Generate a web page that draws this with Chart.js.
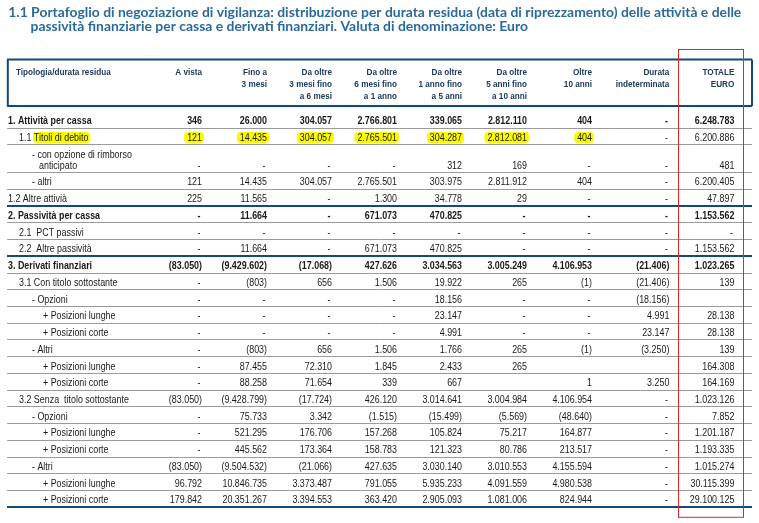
<!DOCTYPE html>
<html lang="it">
<head>
<meta charset="utf-8">
<title>Portafoglio di negoziazione di vigilanza</title>
<script src="https://cdn.jsdelivr.net/npm/chart.js@4.4.1/dist/chart.umd.min.js"></script>
<style>
  html, body { margin: 0; padding: 0; background: #ffffff; }
  #wrap { width: 759px; height: 523px; }
</style>
</head>
<body>
<div id="wrap"><canvas id="tbl" width="759" height="523"></canvas></div>
<script>
// ---- text ----
const titleLines = [
    "1.1 Portafoglio di negoziazione di vigilanza: distribuzione per durata residua (data di riprezzamento) delle attività e delle",
    "passività finanziarie per cassa e derivati finanziari. Valuta di denominazione: Euro"
];
const headCorner = "Tipologia/durata residua";
const colHeaders = [
    ["A vista"],
    ["Fino a", "3 mesi"],
    ["Da oltre", "3 mesi fino", "a 6 mesi"],
    ["Da oltre", "6 mesi fino", "a 1 anno"],
    ["Da oltre", "1 anno fino", "a 5 anni"],
    ["Da oltre", "5 anni fino", "a 10 anni"],
    ["Oltre", "10 anni"],
    ["Durata", "indeterminata"],
    ["TOTALE", "EURO"]
];
const rowLabels = [
    "1. Attività per cassa",
    "1.1 Titoli di debito",
    "- con opzione di rimborso\nanticipato",
    "- altri",
    "1.2 Altre attivià",
    "2. Passività per cassa",
    "2.1  PCT passivi",
    "2.2  Altre passività",
    "3. Derivati finanziari",
    "3.1 Con titolo sottostante",
    "- Opzioni",
    "+ Posizioni lunghe",
    "+ Posizioni corte",
    "- Altri",
    "+ Posizioni lunghe",
    "+ Posizioni corte",
    "3.2 Senza  titolo sottostante",
    "- Opzioni",
    "+ Posizioni lunghe",
    "+ Posizioni corte",
    "- Altri",
    "+ Posizioni lunghe",
    "+ Posizioni corte"
];
// indent level of each label (0 = section)
const rowIndent = [0, 1, 2, 2, 0, 0, 1, 1, 0, 1, 2, 3, 3, 2, 3, 3, 1, 2, 3, 3, 2, 3, 3];

// ---- values (0 = "-", null = empty cell, negative = in brackets) ----
const aVista     = [346, 121, 0, 121, 225, 0, 0, 0, -83050, 0, 0, 0, 0, 0, 0, 0, -83050, 0, 0, 0, -83050, 96792, 179842];
const fino3m     = [26000, 14435, 0, 14435, 11565, 11664, 0, 11664, -9429602, -803, 0, 0, 0, -803, 87455, 88258, -9428799, 75733, 521295, 445562, -9504532, 10846735, 20351267];
const da3a6m     = [304057, 304057, 0, 304057, 0, 0, 0, 0, -17068, 656, 0, 0, 0, 656, 72310, 71654, -17724, 3342, 176706, 173364, -21066, 3373487, 3394553];
const da6m1a     = [2766801, 2765501, 0, 2765501, 1300, 671073, 0, 671073, 427626, 1506, 0, 0, 0, 1506, 1845, 339, 426120, -1515, 157268, 158783, 427635, 791055, 363420];
const da1a5a     = [339065, 304287, 312, 303975, 34778, 470825, 0, 470825, 3034563, 19922, 18156, 23147, 4991, 1766, 2433, 667, 3014641, -15499, 105824, 121323, 3030140, 5935233, 2905093];
const da5a10a    = [2812110, 2812081, 169, 2811912, 29, 0, 0, 0, 3005249, 265, 0, 0, 0, 265, 265, null, 3004984, -5569, 75217, 80786, 3010553, 4091559, 1081006];
const oltre10a   = [404, 404, 0, 404, 0, 0, 0, 0, 4106953, -1, 0, 0, 0, -1, null, 1, 4106954, -48640, 164877, 213517, 4155594, 4980538, 824944];
const durataInd  = [0, 0, 0, 0, 0, 0, 0, 0, -21406, -21406, -18156, 4991, 23147, -3250, null, 3250, 0, 0, 0, 0, 0, 0, 0];
const totaleEuro = [6248783, 6200886, 481, 6200405, 47897, 1153562, 0, 1153562, 1023265, 139, null, 28138, 28138, 139, 164308, 164169, 1023126, 7852, 1201187, 1193335, 1015274, 30115399, 29100125];

const columns = [aVista, fino3m, da3a6m, da6m1a, da1a5a, da5a10a, oltre10a, durataInd, totaleEuro];

// highlighted (yellow marker) row and columns
const markRow = 1;
const markCols = [0, 1, 2, 3, 4, 5, 6];

// ---- layout ----
const colSlots = [0, 1, 2, 3, 4, 5, 6, 7.19, 8.19];   // right edge of each column, x units
const indentPx = [1, 12, 25, 36];
const LINE = 0.65;     // extra row units for every added text line
const TOP_PAD = 0.33;

const NAVY = "#124a7b";
const GRID = "#9b9b9b";
const INK = "#1a1a1a";
const HEAD_INK = "#1d3b60";
const TITLE_INK = "#2a6a9c";
const RED = "#e2262c";
const MARK = "#fbfb00";

const BODY = '"Liberation Sans", Arial, sans-serif';
const TITLE_FONT = 'Lato, "Open Sans", sans-serif';
const BODY_SX = 0.89;

// row geometry in y units
const rowLines = rowLabels.map(l => l.split("\n").length);
const rowBottom = [];
let acc = 0;
rowLines.forEach(n => { acc += 1 + LINE * (n - 1); rowBottom.push(acc); });
const valueY = rowBottom.map(b => b - 0.5);
const isSection = l => /^\d\. /.test(l);
const boundaries = [-TOP_PAD].concat(rowBottom);
const thick = new Set([0, boundaries.length - 1]);
rowBottom.forEach((b, r) => { if (r + 1 < rowLabels.length && isSection(rowLabels[r + 1])) thick.add(r + 1); });

const fmt = v => {
    if (v === null || v === undefined) return "";
    if (v === 0) return "-";
    const s = Math.abs(v).toString().replace(/\B(?=(\d{3})+(?!\d))/g, ".");
    return v < 0 ? "(" + s + ")" : s;
};

const drawText = (ctx, str, x, y, o) => {
    ctx.save();
    ctx.font = (o.bold ? "bold " : "") + o.size + "px " + (o.family || BODY);
    ctx.fillStyle = o.color || INK;
    ctx.textAlign = o.align || "left";
    ctx.textBaseline = "alphabetic";
    ctx.translate(x, y);
    ctx.scale(o.sx || BODY_SX, 1);
    ctx.fillText(str, 0, 0);
    ctx.restore();
};
const textWidth = (ctx, str, o) => {
    ctx.save();
    ctx.font = (o.bold ? "bold " : "") + o.size + "px " + (o.family || BODY);
    const w = ctx.measureText(str).width * (o.sx || BODY_SX);
    ctx.restore();
    return w;
};
const marker = (ctx, x0, x1, cy) => {
    ctx.save();
    ctx.fillStyle = MARK;
    ctx.beginPath();
    ctx.roundRect(x0, cy - 5.5, x1 - x0, 11, 4);
    ctx.fill();
    ctx.restore();
};

const tablePlugin = {
    id: "tableText",
    afterDatasetsDraw(chart) {
        const ctx = chart.ctx;
        const area = chart.chartArea;
        const yS = chart.scales.y;
        const xS = chart.scales.x;
        const body = { size: 10 };

        // markers under the text
        const lab = rowLabels[markRow];
        const pre = lab.slice(0, 4);
        const labY = yS.getPixelForValue(valueY[markRow]) + 1;
        const lx = area.left + indentPx[rowIndent[markRow]] + textWidth(ctx, pre, body);
        marker(ctx, lx - 1, lx + textWidth(ctx, lab.slice(4), body) + 2, labY);
        markCols.forEach(c => {
            const v = columns[c][markRow];
            if (!v) return;
            const el = chart.getDatasetMeta(c).data[markRow];
            const w = textWidth(ctx, fmt(v), body);
            marker(ctx, el.x - w - 3, el.x + 2, el.y + 1);
        });

        // row labels
        rowLabels.forEach((l, r) => {
            const parts = l.split("\n");
            const bold = isSection(l);
            parts.forEach((p, k) => {
                const yv = valueY[r] - LINE * (parts.length - 1 - k);
                const x = area.left + indentPx[rowIndent[r]] + (k > 0 ? 7 : 0);
                drawText(ctx, p, x, yS.getPixelForValue(yv) + 4.5, { size: 10, bold });
            });
        });

        // cells
        columns.forEach((col, c) => {
            chart.getDatasetMeta(c).data.forEach((el, r) => {
                const s = fmt(col[r]);
                if (!s) return;
                const dx = col[r] === 0 ? 1.5 : 0;
                drawText(ctx, s, el.x - dx, el.y + 4.5, { size: 10, bold: isSection(rowLabels[r]), align: "right" });
            });
        });

        // header box
        const top = area.top;
        ctx.save();
        ctx.strokeStyle = NAVY;
        ctx.lineWidth = 2;
        ctx.beginPath();
        ctx.moveTo(area.left, top - 46.5);
        ctx.lineTo(area.right, top - 46.5);
        ctx.moveTo(area.left + 0.8, top - 46.5);
        ctx.lineTo(area.left + 0.8, top);
        ctx.moveTo(area.right, top - 46.5);
        ctx.lineTo(area.right, top);
        ctx.stroke();
        ctx.restore();

        const head = { size: 9.5, bold: true, color: HEAD_INK, sx: 0.86 };
        drawText(ctx, headCorner, area.left + 9, top - 34 + 3.4, head);
        colHeaders.forEach((lines, c) => {
            const x = xS.getPixelForValue(colSlots[c]);
            lines.forEach((t, k) => {
                drawText(ctx, t, x, top - 34 + 12 * k + 3.4, Object.assign({ align: "right" }, head));
            });
        });

        // title
        const tOpt = { size: 13.5, bold: true, family: TITLE_FONT, color: TITLE_INK, sx: 1 };
        const sx = 733 / textWidth(ctx, titleLines[0], tOpt);
        tOpt.sx = sx;
        drawText(ctx, titleLines[0], 8.3, 17, tOpt);
        drawText(ctx, titleLines[1], 30.5, 31, tOpt);

        // red frame around the total column
        const tx = xS.getPixelForValue(colSlots[8]);
        ctx.save();
        ctx.strokeStyle = RED;
        ctx.lineWidth = 1;
        ctx.strokeRect(Math.round(tx - 56) + 0.5, 49.5, 65, area.bottom + 10 - 49.5);
        ctx.restore();
    }
};

new Chart(document.getElementById("tbl"), {
    type: "scatter",
    data: {
        datasets: columns.map((col, c) => ({
            label: colHeaders[c].join(" "),
            data: col.map((v, r) => ({ x: colSlots[c], y: valueY[r] })),
            pointRadius: 0,
            pointHoverRadius: 0,
            showLine: false
        }))
    },
    options: {
        responsive: false,
        animation: false,
        devicePixelRatio: 1,
        events: [],
        layout: { padding: { left: 7, right: 7, top: 106, bottom: 15.7 } },
        plugins: { legend: { display: false }, tooltip: { enabled: false } },
        scales: {
            x: { type: "linear", display: false, min: -3, max: 8.4615 },
            y: {
                type: "linear",
                reverse: true,
                min: -TOP_PAD,
                max: rowBottom[rowBottom.length - 1],
                border: { display: false },
                ticks: { display: false },
                grid: {
                    drawTicks: false,
                    color: c => thick.has(c.index) ? NAVY : GRID,
                    lineWidth: c => thick.has(c.index) ? 2 : 1
                },
                afterBuildTicks: axis => { axis.ticks = boundaries.map(v => ({ value: v })); }
            }
        }
    },
    plugins: [tablePlugin]
});
</script>
</body>
</html>
